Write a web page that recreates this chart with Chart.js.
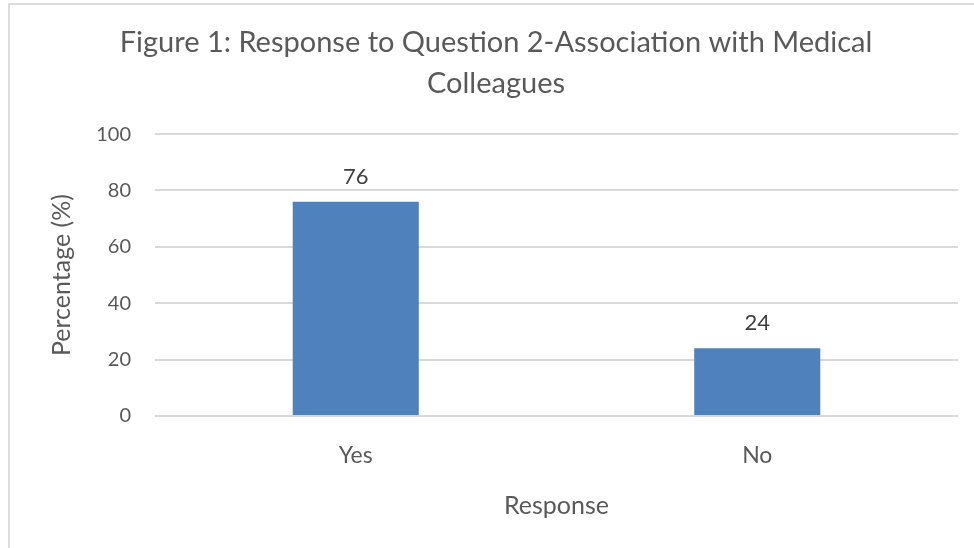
<!DOCTYPE html>
<html>
<head>
<meta charset="utf-8">
<script src="https://cdn.jsdelivr.net/npm/chart.js@4.4.1/dist/chart.umd.min.js"></script>
<style>
  html, body { margin: 0; padding: 0; background: #ffffff; }
  #frame { position: absolute; left: 8px; top: 3px; width: 966px; height: 545px;
           border-left: 2px solid #dcdcdc; border-top: 2px solid #dcdcdc; box-sizing: border-box; }
  #wrap { position: absolute; left: 0; top: 0; width: 974px; height: 548px; }
</style>
</head>
<body>
<div id="frame"></div>
<div id="wrap"><canvas id="c" width="974" height="548"></canvas></div>
<script>
const categories = ["Yes", "No"];
const percentages = [76, 24];
const yTickValues = [0, 20, 40, 60, 80, 100];
const titleLines = ["Figure 1: Response to Question 2-Association with Medical", "Colleagues"];
const xAxisTitle = "Response";
const yAxisTitle = "Percentage (%)";

const FONT = "Lato, 'Open Sans', sans-serif";
const TXT = "#595959";

const valueLabels = {
  id: "valueLabels",
  afterDatasetsDraw(chart) {
    const ctx = chart.ctx;
    const meta = chart.getDatasetMeta(0);
    ctx.save();
    ctx.font = "22px " + FONT;
    ctx.fillStyle = "#404040";
    ctx.textAlign = "center";
    ctx.textBaseline = "middle";
    meta.data.forEach((bar, i) => {
      ctx.fillText(String(percentages[i]), bar.x, bar.y - 25);
    });
    ctx.restore();
  }
};

new Chart(document.getElementById("c"), {
  type: "bar",
  data: {
    labels: categories,
    datasets: [{
      data: percentages,
      backgroundColor: "#4f81bd",
      borderWidth: 0,
      categoryPercentage: 1,
      barPercentage: 0.314
    }]
  },
  options: {
    responsive: false,
    animation: false,
    layout: { padding: { left: 34, right: 16, top: 0, bottom: 0 } },
    plugins: {
      legend: { display: false },
      tooltip: { enabled: false },
      title: {
        display: true,
        text: titleLines,
        color: TXT,
        font: { family: FONT, size: 29, weight: "normal", lineHeight: 1.415 },
        padding: { top: 22, bottom: 30 }
      }
    },
    scales: {
      x: {
        grid: { display: false },
        border: { display: false },
        ticks: { color: TXT, font: { family: FONT, size: 23 }, padding: 18 },
        title: {
          display: true, text: xAxisTitle, color: TXT,
          font: { family: FONT, size: 25 },
          padding: { top: 0, bottom: 27 }
        },
        afterFit(scale) { scale.height = 548 - 416; }
      },
      y: {
        min: 0, max: 100,
        afterBuildTicks(scale) { scale.ticks = yTickValues.map(v => ({ value: v })); },
        grid: { color: "#d9d9d9", lineWidth: 2, drawTicks: false },
        border: { display: false },
        ticks: { color: TXT, font: { family: FONT, size: 20 }, padding: 24 },
        title: {
          display: true, text: yAxisTitle, color: TXT,
          font: { family: FONT, size: 25 },
          padding: { top: 13, bottom: 0 }
        },
        afterFit(scale) { scale.width = 155 - 34; }
      }
    }
  },
  plugins: [valueLabels]
});
</script>
</body>
</html>
